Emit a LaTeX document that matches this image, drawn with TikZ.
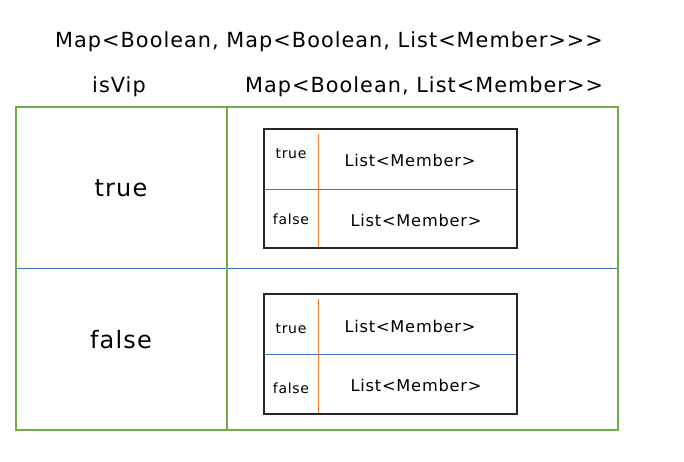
\documentclass[tikz,border=0pt]{standalone}
\usepackage{fontspec}
\newfontfamily\df[LetterSpace=5]{DejaVu Sans}
\definecolor{xgreen}{RGB}{112,173,71}
\definecolor{xblue}{RGB}{68,114,196}
\definecolor{xorange}{RGB}{237,125,49}
\begin{document}
\begin{tikzpicture}[x=1pt,y=-1pt,
  lbl/.style={inner sep=0pt,anchor=center},
  grn/.style={draw=xgreen,line width=1.6pt},
  blu/.style={draw=xblue,line width=0.8pt},
  org/.style={draw=xorange,line width=0.8pt},
  inbox/.style={draw=black!85,line width=1.6pt},
  hd/.style={lbl,font=\df\fontsize{20.8}{24}\selectfont},
  big/.style={lbl,font=\df\fontsize{24}{30}\selectfont},
  sm/.style={lbl,font=\df\fontsize{14}{16}\selectfont},
  md/.style={lbl,font=\df\fontsize{16.2}{19}\selectfont}]
\useasboundingbox (0,0) rectangle (684,462);
\node[hd] (title) at (329,42) {Map<Boolean, Map<Boolean, List<Member>>>};
\node[hd] (isvip) at (119,87) {isVip};
\node[hd] (inner) at (424,87) {Map<Boolean, List<Member>>};
% outer table
\coordinate (otl) at (16,107);
\coordinate (obr) at (618,430);
\draw[blu] (16,268) coordinate (bl) -- (618,268) coordinate (br);
\draw[grn] (otl) rectangle (obr);
\draw[grn] (227,107) coordinate (vt) -- (227,430) coordinate (vb);
\node[big] (ktrue) at (121,188) {true};
\node[big] (kfalse) at (121,340) {false};
% inner box 1
\draw[blu] (264,189) coordinate (a1) -- (517,189) coordinate (a2);
\draw[org] (318,134) coordinate (a3) -- (318,248) coordinate (a4);
\draw[inbox] (264,129) rectangle (517,248);
\node[sm] (t1) at (291,154) {true};
\node[sm] (f1) at (291,219) {false};
\node[md] (l1) at (410,160) {List<Member>};
\node[md] (l2) at (416,220) {List<Member>};
% inner box 2
\draw[blu] (264,354) coordinate (b1) -- (517,354) coordinate (b2);
\draw[org] (318,299) coordinate (b3) -- (318,414) coordinate (b4);
\draw[inbox] (264,294) rectangle (517,414);
\node[sm] (t2) at (291,329) {true};
\node[sm] (f2) at (291,388) {false};
\node[md] (l3) at (410,326) {List<Member>};
\node[md] (l4) at (416,385) {List<Member>};
\end{tikzpicture}
\end{document}
